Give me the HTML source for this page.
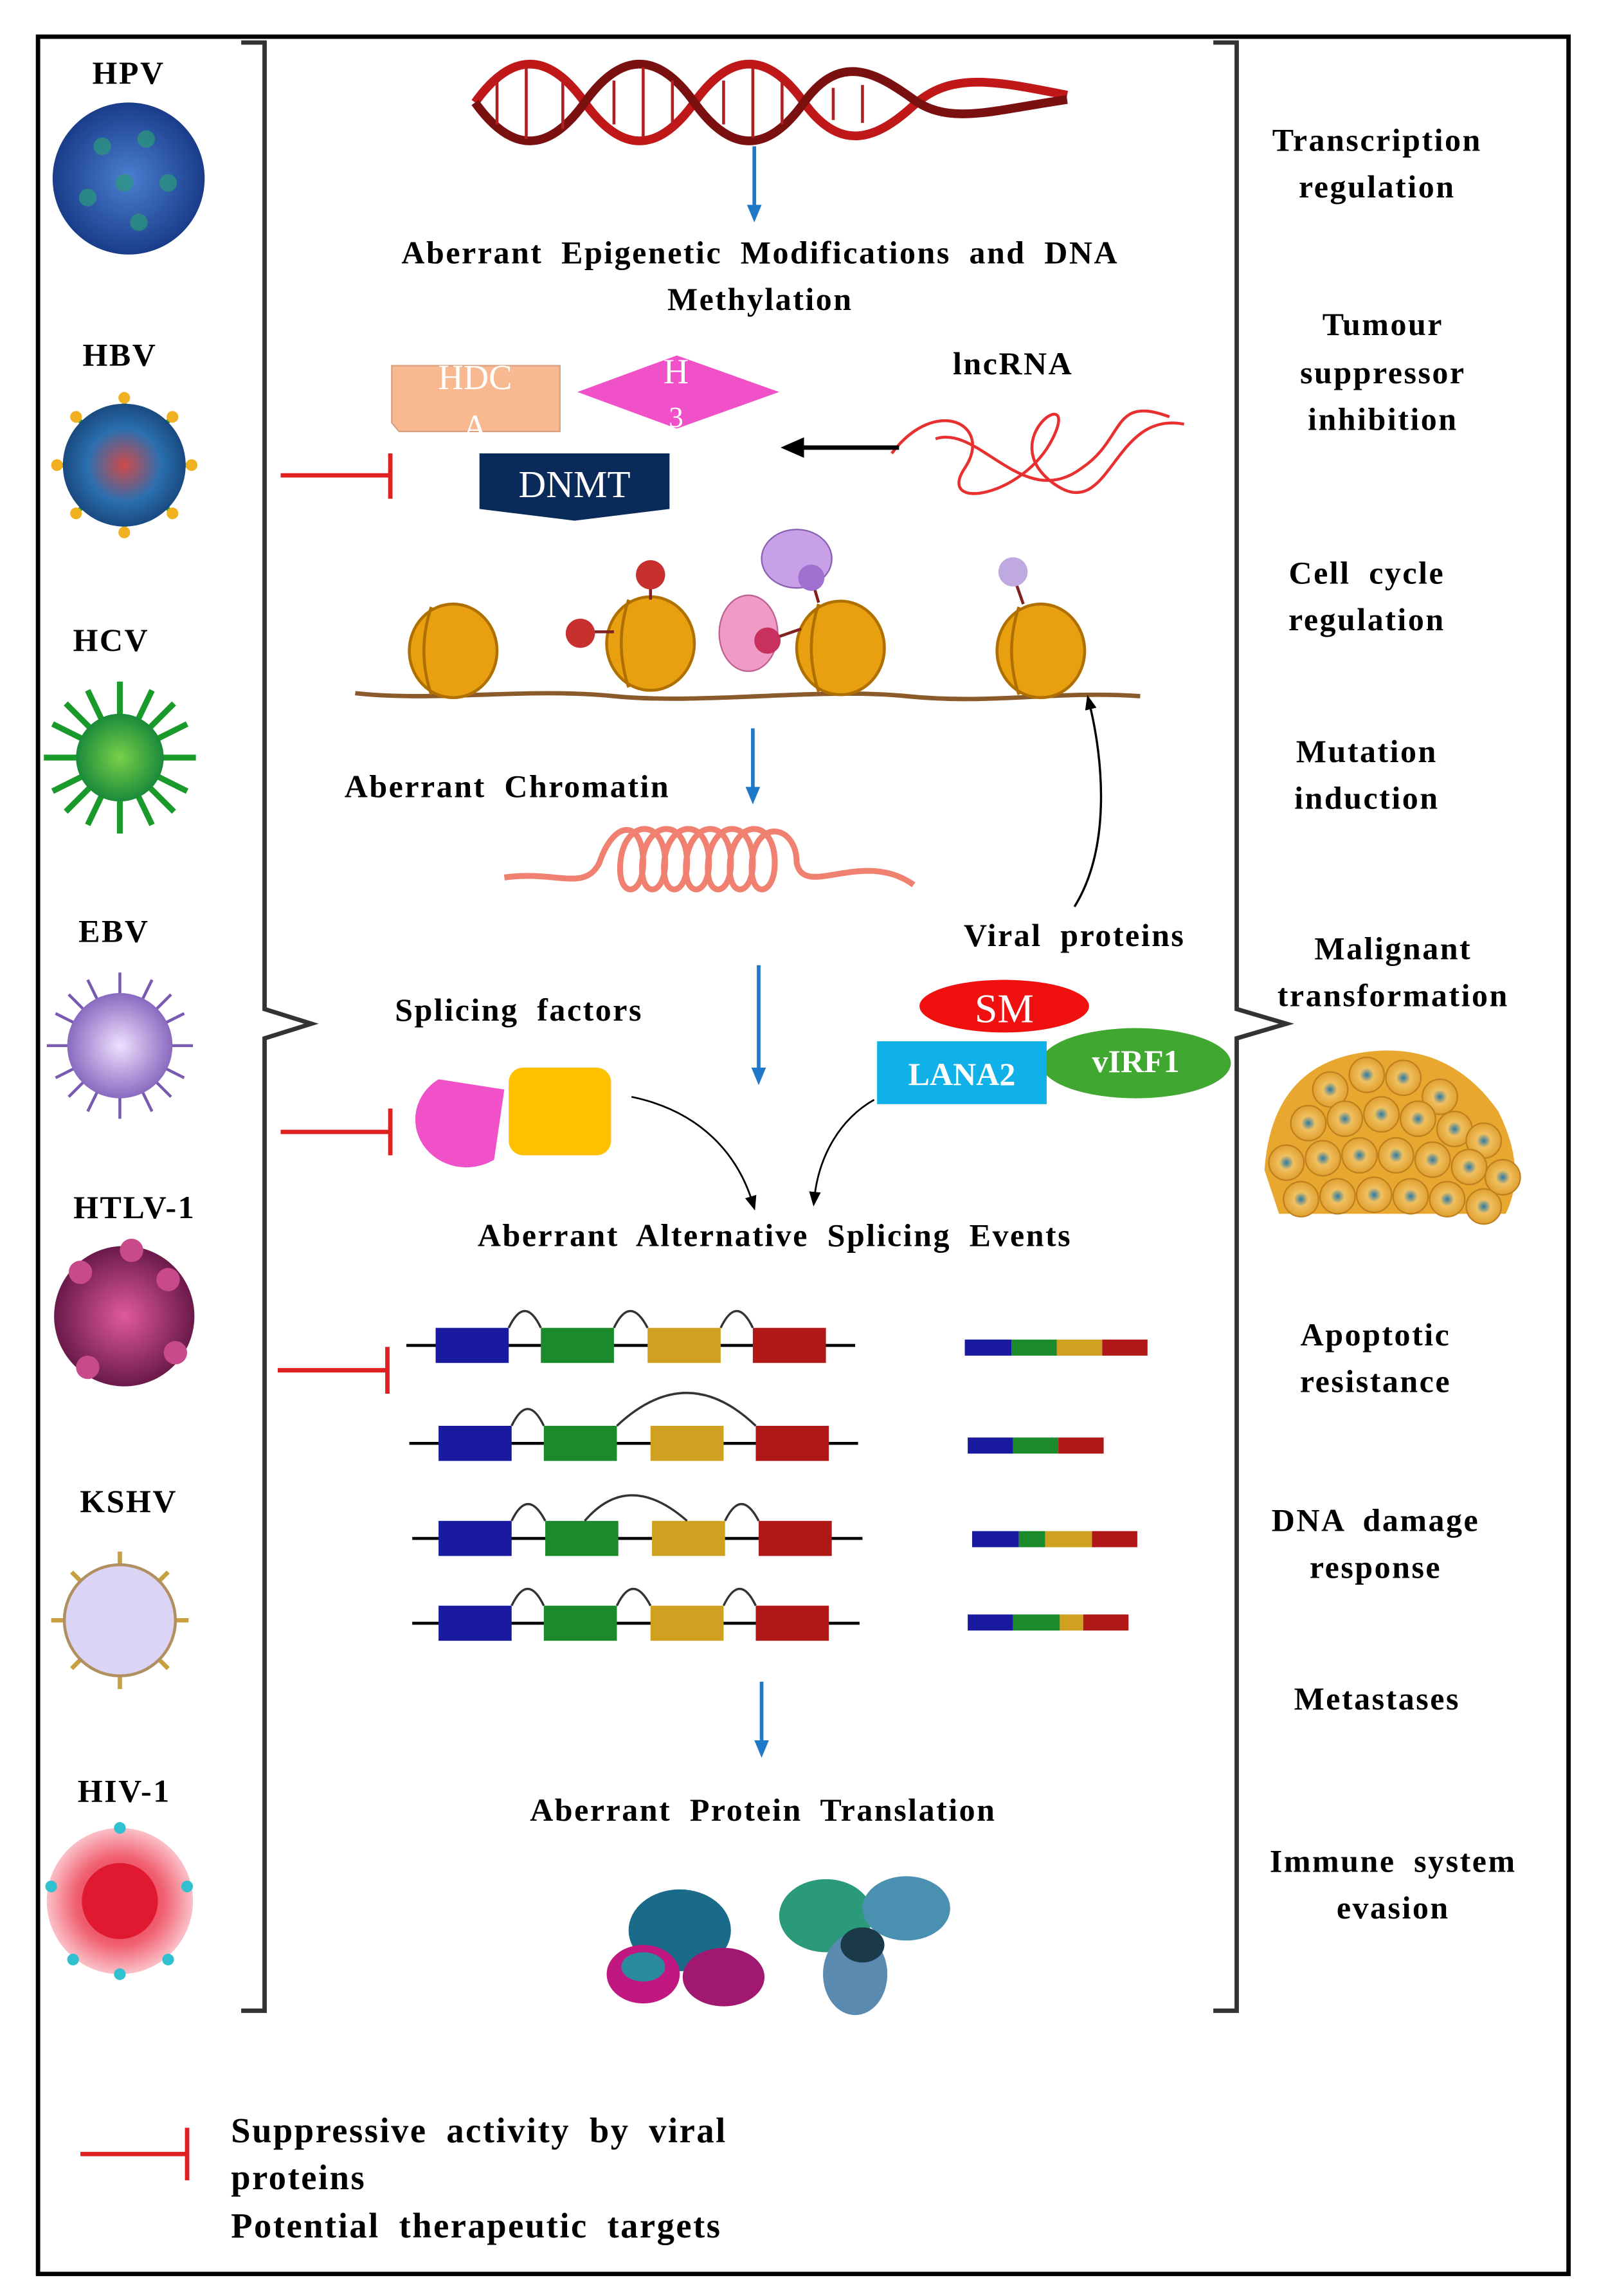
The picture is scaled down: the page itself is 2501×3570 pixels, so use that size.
<!DOCTYPE html>
<html><head><meta charset="utf-8">
<style>
html,body{margin:0;padding:0;background:#fff;}
svg{display:block;}
text{font-family:"Liberation Serif",serif;font-weight:bold;fill:#000;letter-spacing:1.1px;word-spacing:6px;}
</style></head>
<body>
<svg width="2501" height="3570" viewBox="0 0 1100 1570" xmlns="http://www.w3.org/2000/svg">
<defs>
<marker id="ab" markerUnits="userSpaceOnUse" markerWidth="12" markerHeight="12" refX="6" refY="6" orient="auto"><path d="M0,1 L12,6 L0,11 z" fill="#1f78c8"/></marker>
<marker id="ak" markerUnits="userSpaceOnUse" markerWidth="10" markerHeight="10" refX="5" refY="5" orient="auto"><path d="M0,1 L10,5 L0,9 z" fill="#000"/></marker>
<marker id="ak2" markerUnits="userSpaceOnUse" markerWidth="16" markerHeight="14" refX="8" refY="7" orient="auto"><path d="M0,0 L16,7 L0,14 z" fill="#000"/></marker>
<radialGradient id="gHPV"><stop offset="0" stop-color="#4a7fd0"/><stop offset="1" stop-color="#1a3d8a"/></radialGradient>
<radialGradient id="gHBV"><stop offset="0" stop-color="#d04a4a"/><stop offset="0.6" stop-color="#2a6fb0"/><stop offset="1" stop-color="#1a4a80"/></radialGradient>
<radialGradient id="gHCV"><stop offset="0" stop-color="#7ad04a"/><stop offset="1" stop-color="#1a8a3a"/></radialGradient>
<radialGradient id="gEBV"><stop offset="0" stop-color="#f0e0ff"/><stop offset="1" stop-color="#8a6ac0"/></radialGradient>
<radialGradient id="gHTLV"><stop offset="0" stop-color="#e05a9a"/><stop offset="1" stop-color="#6a1a4a"/></radialGradient>
<radialGradient id="gHIV"><stop offset="0" stop-color="#e82040"/><stop offset="0.6" stop-color="#f06070"/><stop offset="1" stop-color="#fbc0c8"/></radialGradient>
<radialGradient id="gCell"><stop offset="0" stop-color="#2a7aa8"/><stop offset="0.4" stop-color="#f0c060"/><stop offset="1" stop-color="#e0a030"/></radialGradient>
</defs>

<rect x="26" y="25" width="1047" height="1530" fill="none" stroke="#000" stroke-width="3"/>

<path d="M165,29 L181,29 L181,690 L213,700 L181,710 L181,1375 L165,1375" fill="none" stroke="#333" stroke-width="3"/>
<path d="M830,29 L846,29 L846,690 L880,700 L846,710 L846,1375 L830,1375" fill="none" stroke="#333" stroke-width="3"/>

<g font-size="22" text-anchor="middle">
<text x="88" y="57">HPV</text>
<text x="82" y="250">HBV</text>
<text x="76" y="445">HCV</text>
<text x="78" y="644">EBV</text>
<text x="92" y="833">HTLV-1</text>
<text x="88" y="1034">KSHV</text>
<text x="85" y="1232">HIV-1</text>
</g>
<circle cx="88" cy="122" r="52" fill="url(#gHPV)"/>
<g fill="#2a9a7a" opacity="0.7"><circle cx="70" cy="100" r="6"/><circle cx="100" cy="95" r="6"/><circle cx="115" cy="125" r="6"/><circle cx="85" cy="125" r="6"/><circle cx="60" cy="135" r="6"/><circle cx="95" cy="152" r="6"/></g>
<g stroke="#2a9a3a" stroke-width="3"><line x1="40" y1="318" x2="130" y2="318"/><line x1="85" y1="273" x2="85" y2="363"/><line x1="53" y1="286" x2="117" y2="350"/><line x1="117" y1="286" x2="53" y2="350"/></g>
<circle cx="85" cy="318" r="42" fill="url(#gHBV)"/>
<g fill="#f0b020"><circle cx="85" cy="272" r="4"/><circle cx="131" cy="318" r="4"/><circle cx="39" cy="318" r="4"/><circle cx="85" cy="364" r="4"/><circle cx="118" cy="285" r="4"/><circle cx="52" cy="351" r="4"/><circle cx="52" cy="285" r="4"/><circle cx="118" cy="351" r="4"/></g>
<g stroke="#1a9a2a" stroke-width="4"><line x1="30" y1="518" x2="134" y2="518"/><line x1="82" y1="466" x2="82" y2="570"/><line x1="45" y1="481" x2="119" y2="555"/><line x1="119" y1="481" x2="45" y2="555"/><line x1="36" y1="495" x2="128" y2="541"/><line x1="36" y1="541" x2="128" y2="495"/><line x1="60" y1="472" x2="104" y2="564"/><line x1="104" y1="472" x2="60" y2="564"/></g>
<circle cx="82" cy="518" r="30" fill="url(#gHCV)"/>
<g stroke="#7a5ab0" stroke-width="2"><line x1="32" y1="715" x2="132" y2="715"/><line x1="82" y1="665" x2="82" y2="765"/><line x1="47" y1="680" x2="117" y2="750"/><line x1="117" y1="680" x2="47" y2="750"/><line x1="38" y1="693" x2="126" y2="737"/><line x1="38" y1="737" x2="126" y2="693"/><line x1="60" y1="670" x2="104" y2="760"/><line x1="104" y1="670" x2="60" y2="760"/></g>
<circle cx="82" cy="715" r="36" fill="url(#gEBV)"/>
<circle cx="85" cy="900" r="48" fill="url(#gHTLV)"/>
<g fill="#c84a8a"><circle cx="55" cy="870" r="8"/><circle cx="115" cy="875" r="8"/><circle cx="120" cy="925" r="8"/><circle cx="60" cy="935" r="8"/><circle cx="90" cy="855" r="8"/></g>
<g stroke="#c8a040" stroke-width="3"><line x1="35" y1="1108" x2="129" y2="1108"/><line x1="82" y1="1061" x2="82" y2="1155"/><line x1="49" y1="1075" x2="115" y2="1141"/><line x1="115" y1="1075" x2="49" y2="1141"/></g>
<circle cx="82" cy="1108" r="38" fill="#dcd4f4" stroke="#b09060" stroke-width="2"/>
<circle cx="82" cy="1300" r="50" fill="url(#gHIV)"/>
<circle cx="82" cy="1300" r="26" fill="#e01830"/>
<g fill="#30c0d0"><circle cx="35" cy="1290" r="4"/><circle cx="128" cy="1290" r="4"/><circle cx="50" cy="1340" r="4"/><circle cx="115" cy="1340" r="4"/><circle cx="82" cy="1250" r="4"/><circle cx="82" cy="1350" r="4"/></g>

<g font-size="22" text-anchor="middle">
<text x="942" y="103">Transcription</text><text x="942" y="135">regulation</text>
<text x="946" y="229">Tumour</text><text x="946" y="262">suppressor</text><text x="946" y="294">inhibition</text>
<text x="935" y="399">Cell cycle</text><text x="935" y="431">regulation</text>
<text x="935" y="521">Mutation</text><text x="935" y="553">induction</text>
<text x="953" y="656">Malignant</text><text x="953" y="688">transformation</text>
<text x="941" y="920">Apoptotic</text><text x="941" y="952">resistance</text>
<text x="941" y="1047">DNA damage</text><text x="941" y="1079">response</text>
<text x="942" y="1169">Metastases</text>
<text x="953" y="1280">Immune system</text><text x="953" y="1312">evasion</text>
</g>
<g>
<path d="M865,800 Q870,730 930,720 Q990,710 1025,760 Q1045,800 1030,830 L875,830 Z" fill="#e8a830"/>
<g fill="url(#gCell)" stroke="#c08020" stroke-width="1">
<circle cx="935" cy="735" r="12"/><circle cx="960" cy="737" r="12"/><circle cx="910" cy="745" r="12"/><circle cx="985" cy="750" r="12"/>
<circle cx="895" cy="768" r="12"/><circle cx="920" cy="765" r="12"/><circle cx="945" cy="762" r="12"/><circle cx="970" cy="765" r="12"/><circle cx="995" cy="772" r="12"/><circle cx="1015" cy="780" r="12"/>
<circle cx="880" cy="795" r="12"/><circle cx="905" cy="792" r="12"/><circle cx="930" cy="790" r="12"/><circle cx="955" cy="790" r="12"/><circle cx="980" cy="793" r="12"/><circle cx="1005" cy="798" r="12"/><circle cx="1028" cy="805" r="12"/>
<circle cx="890" cy="820" r="12"/><circle cx="915" cy="818" r="12"/><circle cx="940" cy="817" r="12"/><circle cx="965" cy="818" r="12"/><circle cx="990" cy="820" r="12"/><circle cx="1015" cy="825" r="12"/>
</g></g>

<g fill="none" stroke-width="6">
<path d="M325,70 C350,35 375,35 400,70 S450,105 475,70 S525,35 550,70 S600,95 625,72 S680,55 730,65" stroke="#c01818"/>
<path d="M325,70 C350,105 375,105 400,70 S450,35 475,70 S525,105 550,70 S600,50 625,68 S680,75 730,68" stroke="#7a1010"/>
</g>
<g stroke="#b02020" stroke-width="2">
<line x1="340" y1="55" x2="340" y2="85"/><line x1="360" y1="45" x2="360" y2="95"/><line x1="385" y1="52" x2="385" y2="88"/><line x1="420" y1="55" x2="420" y2="85"/><line x1="440" y1="46" x2="440" y2="94"/><line x1="460" y1="55" x2="460" y2="85"/><line x1="495" y1="55" x2="495" y2="85"/><line x1="515" y1="46" x2="515" y2="94"/><line x1="535" y1="55" x2="535" y2="85"/><line x1="570" y1="60" x2="570" y2="82"/><line x1="590" y1="58" x2="590" y2="84"/>
</g>

<g stroke="#1f78c8" stroke-width="2.5" marker-end="url(#ab)">
<line x1="516" y1="100" x2="516" y2="146"/>
<line x1="515" y1="498" x2="515" y2="544"/>
<line x1="519" y1="660" x2="519" y2="736"/>
<line x1="521" y1="1150" x2="521" y2="1196"/>
</g>

<g font-size="22" text-anchor="middle">
<text x="520" y="180">Aberrant Epigenetic Modifications and DNA</text>
<text x="520" y="212">Methylation</text>
</g>
<path d="M268,250 L383,250 L383,295 L273,295 L268,289 Z" fill="#f8b890" stroke="#d8a080"/>
<text x="325" y="266" font-size="24" text-anchor="middle" style="fill:#fff;font-weight:normal;letter-spacing:0">HDC</text>
<text x="325" y="300" font-size="24" text-anchor="middle" style="fill:#fff;font-weight:normal;letter-spacing:0">A</text>
<polygon points="395,268 463,243 533,268 463,293" fill="#f050c8"/>
<text x="463" y="262" font-size="24" text-anchor="middle" style="fill:#fff;font-weight:normal">H</text>
<text x="463" y="292" font-size="20" text-anchor="middle" style="fill:#fff;font-weight:normal">3</text>
<path d="M328,310 L458,310 L458,348 L393,356 L328,348 Z" fill="#0a2a5a"/>
<text x="393" y="340" font-size="26" text-anchor="middle" style="fill:#fff;font-weight:normal;letter-spacing:0">DNMT</text>
<text x="693" y="256" font-size="22" text-anchor="middle">lncRNA</text>
<path d="M610,310 C640,270 680,290 660,320 C640,350 700,340 720,300 C740,260 680,300 720,330 C760,360 760,280 810,290" fill="none" stroke="#e83030" stroke-width="2"/>
<path d="M640,300 C670,290 700,350 740,320 C770,300 760,270 800,285" fill="none" stroke="#e83030" stroke-width="2"/>
<line x1="615" y1="306" x2="542" y2="306" stroke="#000" stroke-width="3" marker-end="url(#ak2)"/>

<g stroke="#e02020" stroke-width="3">
<line x1="192" y1="325" x2="267" y2="325"/><line x1="267" y1="310" x2="267" y2="341"/>
<line x1="192" y1="774" x2="267" y2="774"/><line x1="267" y1="758" x2="267" y2="790"/>
<line x1="190" y1="937" x2="265" y2="937"/><line x1="265" y1="921" x2="265" y2="953"/>
<line x1="55" y1="1473" x2="128" y2="1473"/><line x1="128" y1="1455" x2="128" y2="1491"/>
</g>

<path d="M243,474 C300,480 360,470 420,476 S560,470 620,476 S720,472 780,476" fill="none" stroke="#8a5a2a" stroke-width="3"/>
<g fill="#e8a010" stroke="#b07000" stroke-width="2">
<ellipse cx="310" cy="445" rx="30" ry="32"/><ellipse cx="445" cy="440" rx="30" ry="32"/><ellipse cx="575" cy="443" rx="30" ry="32"/><ellipse cx="712" cy="445" rx="30" ry="32"/>
</g>
<g stroke="#b07000" stroke-width="2" fill="none">
<path d="M295,415 Q285,445 295,475"/><path d="M430,410 Q420,440 430,470"/><path d="M560,413 Q550,443 560,473"/><path d="M697,415 Q687,445 697,475"/>
</g>
<g stroke="#802020" stroke-width="2"><line x1="445" y1="395" x2="445" y2="410"/><line x1="405" y1="432" x2="420" y2="432"/><line x1="525" y1="438" x2="548" y2="430"/><line x1="555" y1="395" x2="560" y2="412"/><line x1="693" y1="393" x2="700" y2="413"/></g>
<circle cx="445" cy="393" r="10" fill="#c83030"/>
<circle cx="397" cy="433" r="10" fill="#c83030"/>
<ellipse cx="545" cy="382" rx="24" ry="20" fill="#c8a0e8" stroke="#8a60b0"/>
<circle cx="555" cy="395" r="9" fill="#a070d0"/>
<ellipse cx="512" cy="433" rx="20" ry="26" fill="#f09ac8" stroke="#c06090"/>
<circle cx="525" cy="438" r="9" fill="#c83060"/>
<circle cx="693" cy="391" r="10" fill="#c0a8e0"/>

<text x="347" y="545" font-size="22" text-anchor="middle">Aberrant Chromatin</text>
<path d="M345,600 C380,595 400,610 410,590 C420,560 440,560 440,590 C440,615 420,615 425,585 C430,560 455,560 455,590 C455,615 435,615 440,585 C445,560 470,560 470,590 C470,615 450,615 455,585 C460,560 485,560 485,590 C485,615 465,615 470,585 C475,560 500,560 500,590 C500,615 480,615 485,585 C490,560 515,560 515,590 C515,615 495,615 500,585 C505,560 530,560 530,590 C530,615 510,615 515,585 C520,560 545,565 545,590 C550,615 590,580 625,605" fill="none" stroke="#f08070" stroke-width="4"/>
<path d="M735,620 C760,580 755,520 745,480" fill="none" stroke="#000" stroke-width="1.5" marker-end="url(#ak)"/>
<text x="735" y="647" font-size="22" text-anchor="middle">Viral proteins</text>
<text x="355" y="698" font-size="22" text-anchor="middle">Splicing factors</text>

<path d="M300,738 A32,30 0 0,0 338,793 L345,745 Z" fill="#f050c8"/>
<rect x="348" y="730" width="70" height="60" rx="10" fill="#ffc000"/>
<ellipse cx="687" cy="688" rx="58" ry="18" fill="#f01010"/>
<text x="687" y="699" font-size="28" text-anchor="middle" style="fill:#fff;font-weight:normal;letter-spacing:0">SM</text>
<ellipse cx="777" cy="727" rx="65" ry="24" fill="#40a830"/>
<rect x="600" y="712" width="116" height="43" fill="#10b0e8"/>
<text x="658" y="742" font-size="22" text-anchor="middle" style="fill:#fff;letter-spacing:0">LANA2</text>
<text x="777" y="733" font-size="22" text-anchor="middle" style="fill:#fff;letter-spacing:0">vIRF1</text>
<path d="M432,750 C480,760 505,790 515,823" fill="none" stroke="#000" stroke-width="1.2" marker-end="url(#ak)"/>
<path d="M598,752 C575,765 560,790 557,820" fill="none" stroke="#000" stroke-width="1.2" marker-end="url(#ak)"/>
<text x="530" y="852" font-size="22" text-anchor="middle">Aberrant Alternative Splicing Events</text>

<g>
<line x1="278" y1="920" x2="585" y2="920" stroke="#000" stroke-width="2"/>
<rect x="298" y="908" width="50" height="24" fill="#1a1aa0"/><rect x="370" y="908" width="50" height="24" fill="#1a8a2a"/><rect x="443" y="908" width="50" height="24" fill="#d0a020"/><rect x="515" y="908" width="50" height="24" fill="#b01818"/>
<path d="M348,908 Q359,885 370,908 M420,908 Q431,885 443,908 M493,908 Q504,885 515,908" fill="none" stroke="#333" stroke-width="1.5"/>
<line x1="280" y1="987" x2="587" y2="987" stroke="#000" stroke-width="2"/>
<rect x="300" y="975" width="50" height="24" fill="#1a1aa0"/><rect x="372" y="975" width="50" height="24" fill="#1a8a2a"/><rect x="445" y="975" width="50" height="24" fill="#d0a020"/><rect x="517" y="975" width="50" height="24" fill="#b01818"/>
<path d="M350,975 Q361,952 372,975 M422,975 Q470,930 517,975" fill="none" stroke="#333" stroke-width="1.5"/>
<line x1="282" y1="1052" x2="590" y2="1052" stroke="#000" stroke-width="2"/>
<rect x="300" y="1040" width="50" height="24" fill="#1a1aa0"/><rect x="373" y="1040" width="50" height="24" fill="#1a8a2a"/><rect x="446" y="1040" width="50" height="24" fill="#d0a020"/><rect x="519" y="1040" width="50" height="24" fill="#b01818"/>
<path d="M350,1040 Q361,1017 373,1040 M400,1040 Q430,1005 470,1040 M496,1040 Q507,1017 519,1040" fill="none" stroke="#333" stroke-width="1.5"/>
<line x1="282" y1="1110" x2="588" y2="1110" stroke="#000" stroke-width="2"/>
<rect x="300" y="1098" width="50" height="24" fill="#1a1aa0"/><rect x="372" y="1098" width="50" height="24" fill="#1a8a2a"/><rect x="445" y="1098" width="50" height="24" fill="#d0a020"/><rect x="517" y="1098" width="50" height="24" fill="#b01818"/>
<path d="M350,1098 Q361,1075 372,1098 M422,1098 Q433,1075 445,1098 M495,1098 Q506,1075 517,1098" fill="none" stroke="#333" stroke-width="1.5"/>
</g>
<g>
<rect x="660" y="916" width="32" height="11" fill="#1a1aa0"/><rect x="692" y="916" width="31" height="11" fill="#1a8a2a"/><rect x="723" y="916" width="31" height="11" fill="#d0a020"/><rect x="754" y="916" width="31" height="11" fill="#b01818"/>
<rect x="662" y="983" width="31" height="11" fill="#1a1aa0"/><rect x="693" y="983" width="31" height="11" fill="#1a8a2a"/><rect x="724" y="983" width="31" height="11" fill="#b01818"/>
<rect x="665" y="1047" width="32" height="11" fill="#1a1aa0"/><rect x="697" y="1047" width="18" height="11" fill="#1a8a2a"/><rect x="715" y="1047" width="32" height="11" fill="#d0a020"/><rect x="747" y="1047" width="31" height="11" fill="#b01818"/>
<rect x="662" y="1104" width="31" height="11" fill="#1a1aa0"/><rect x="693" y="1104" width="32" height="11" fill="#1a8a2a"/><rect x="725" y="1104" width="16" height="11" fill="#d0a020"/><rect x="741" y="1104" width="31" height="11" fill="#b01818"/>
</g>

<text x="522" y="1245" font-size="22" text-anchor="middle">Aberrant Protein Translation</text>
<g>
<ellipse cx="465" cy="1320" rx="35" ry="28" fill="#1a6a8a"/>
<ellipse cx="440" cy="1350" rx="25" ry="20" fill="#c01880"/>
<ellipse cx="495" cy="1352" rx="28" ry="20" fill="#a01870"/>
<ellipse cx="440" cy="1345" rx="15" ry="10" fill="#2a8aa0"/>
<ellipse cx="565" cy="1310" rx="32" ry="25" fill="#2a9a7a"/>
<ellipse cx="620" cy="1305" rx="30" ry="22" fill="#4a90b0"/>
<ellipse cx="585" cy="1350" rx="22" ry="28" fill="#5a8ab0"/>
<ellipse cx="590" cy="1330" rx="15" ry="12" fill="#1a3a4a"/>
</g>

<g font-size="24">
<text x="158" y="1465">Suppressive activity by viral</text>
<text x="158" y="1497">proteins</text>
<text x="158" y="1530">Potential therapeutic targets</text>
</g>
</svg>
</body></html>
